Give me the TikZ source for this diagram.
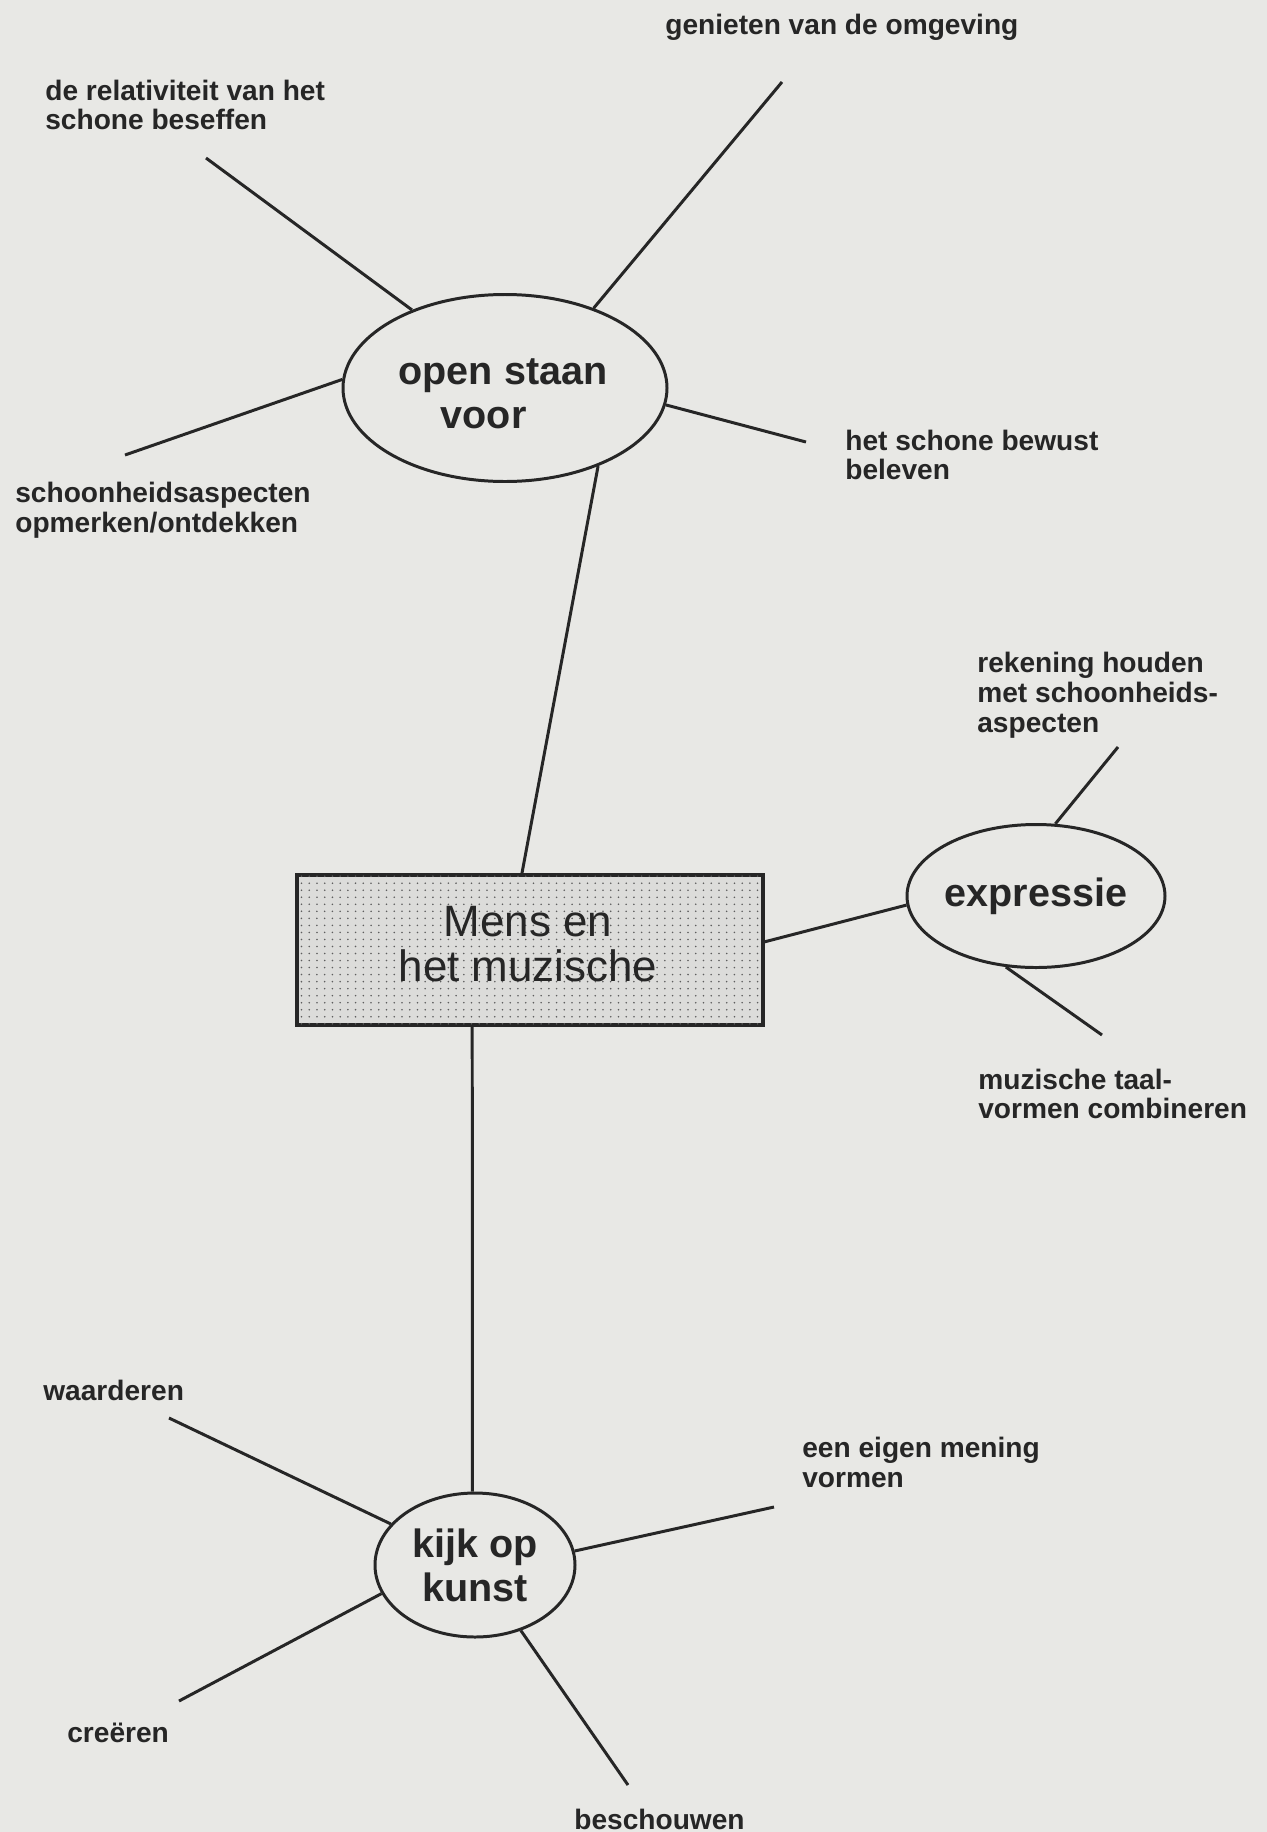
\documentclass[tikz,border=0pt]{standalone}
\usepackage{fontspec}
\setmainfont{Liberation Sans}
\usetikzlibrary{shapes.geometric,patterns.meta}

\definecolor{paper}{HTML}{E8E8E5}
\definecolor{ink}{HTML}{262626}
\definecolor{boxgray}{HTML}{DCDCDA}
\definecolor{dotgray}{HTML}{5E5E5E}

% fine screen of dots for the central box
\tikzdeclarepattern{
  name=screendots,
  type=uncolored,
  bounding box={(-2.2pt,-2pt) and (2.2pt,2pt)},
  tile size={(4.4pt,4pt)},
  code={\fill (0pt,0pt) circle (0.5pt);}
}

\tikzset{
  link/.style={draw=ink, line width=1.7pt},
  theme/.style={ellipse, draw=ink, line width=1.7pt, inner sep=0pt,
    text=ink, align=center, font=\fontsize{22.5}{25}\selectfont\bfseries},
  themetext/.style={inner sep=0pt, text=ink,
    font=\fontsize{22.5}{25}\selectfont\bfseries},
  centre/.style={rectangle, draw=ink, line width=1.9pt, fill=boxgray,
    postaction={pattern=screendots, pattern color=dotgray},
    minimum width=466*0.02cm, minimum height=150*0.02cm, inner sep=0pt},
  centretext/.style={inner sep=0pt, text=ink, align=center,
    font=\fontsize{25}{26}\selectfont},
  leaf/.style={anchor=west, inner sep=0pt, text=ink, align=left,
    font=\fontsize{16}{17}\selectfont\bfseries},
}

\begin{document}
\begin{tikzpicture}[x=0.02cm, y=-0.02cm]
  % paper
  \fill[paper] (0,0) rectangle (1267,1832);
  \useasboundingbox (0,0) rectangle (1267,1832);

  % central box and the three themes
  \node[centre] (box) at (530,950) {};
  \node[centretext] (boxtext) at (528,944) {Mens en\\het muzische};
  \node[theme, minimum width=324*0.02cm, minimum height=187*0.02cm] (open) at (505,388) {};
  \node[themetext, align=left] (opentext) at (503,394) {open staan\\\hspace*{24pt}voor};
  \node[theme, minimum width=248*0.02cm, minimum height=143*0.02cm] (expr) at (1036,896) {expressie};
  \node[theme, minimum width=200*0.02cm, minimum height=144*0.02cm] (kijk) at (475,1565) {kijk op\\kunst};

  % free ends of the spokes
  \coordinate (cGen) at (782,82);
  \coordinate (cRel) at (206,158);
  \coordinate (cSchoon) at (125,455);
  \coordinate (cBewust) at (806,442);
  \coordinate (cRek) at (1118,747);
  \coordinate (cMuz) at (1102,1035);
  \coordinate (cWaard) at (169,1418);
  \coordinate (cMening) at (774,1507);
  \coordinate (cCre) at (179,1701);
  \coordinate (cBesch) at (628,1785);

  % spoke labels
  \node[leaf] (tGen) at (665,27) {genieten van de omgeving};
  \node[leaf] (tRel) at (45,105) {de relativiteit van het\\schone beseffen};
  \node[leaf] (tBewust) at (845,455) {het schone bewust\\beleven};
  \node[leaf] (tSchoon) at (15,510) {schoonheidsaspecten\\opmerken/ontdekken};
  \node[leaf] (tRek) at (977,695) {rekening houden\\met schoonheids-\\aspecten};
  \node[leaf] (tMuz) at (978,1094) {muzische taal-\\vormen combineren};
  \node[leaf] (tWaard) at (43,1390) {waarderen};
  \node[leaf] (tMening) at (802,1462) {een eigen mening\\vormen};
  \node[leaf] (tCre) at (67,1733) {creëren};
  \node[leaf] (tBesch) at (574,1819) {beschouwen};

  % connections between the box and the themes
  \draw[link] (box.96) -- (open.-40.6);
  \draw[link] (box.2) -- (expr.184);
  \draw[link] (box.-127.7) -- (kijk.92.4);

  % spokes of "open staan voor"
  \draw[link] (open.42) -- (cGen);
  \draw[link] (open.140.6) -- (cRel);
  \draw[link] (open.177) -- (cSchoon);
  \draw[link] (open.-6.8) -- (cBewust);

  % spokes of "expressie"
  \draw[link] (expr.75) -- (cRek);
  \draw[link] (expr.-113.5) -- (cMuz);

  % spokes of "kijk op kunst"
  \draw[link] (kijk.154.5) -- (cWaard);
  \draw[link] (kijk.8) -- (cMening);
  \draw[link] (kijk.-163) -- (cCre);
  \draw[link] (kijk.-55.7) -- (cBesch);
\end{tikzpicture}
\end{document}
